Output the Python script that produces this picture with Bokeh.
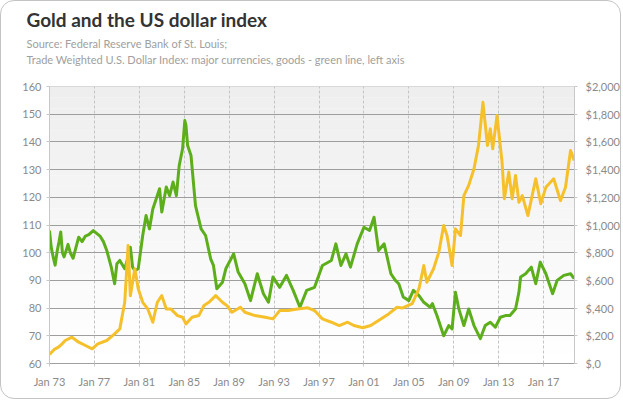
from bokeh.plotting import figure
from bokeh.models import Range1d, LinearAxis, FixedTicker, Title, BoxAnnotation
from bokeh.embed import file_html
from bokeh.resources import INLINE

title_text = "Gold and the US dollar index"
subtitle_1 = "Source: Federal Reserve Bank of St. Louis;"
subtitle_2 = "Trade Weighted U.S. Dollar Index: major currencies, goods - green line, left axis"

# Trade weighted US dollar index (left axis)
usd_dates = [1973.0, 1973.15, 1973.35, 1973.5, 1973.7, 1973.85, 1974.0, 1974.15, 1974.3, 1974.5,
             1974.65, 1974.85, 1975.1, 1975.3, 1975.6, 1975.9, 1976.2, 1976.5, 1976.9, 1977.2,
             1977.5, 1977.8, 1978.1, 1978.5, 1978.8, 1979.0, 1979.26, 1979.7, 1980.0, 1980.2,
             1980.4, 1980.6, 1980.9, 1981.3, 1981.6, 1981.9, 1982.2, 1982.5, 1982.8, 1983.0,
             1983.4, 1983.7, 1984.0, 1984.3, 1984.55, 1984.85, 1985.05, 1985.15, 1985.3, 1985.6,
             1986.0, 1986.5, 1986.9, 1987.35, 1987.6, 1987.9, 1988.4, 1988.7, 1989.4, 1989.8,
             1990.4, 1990.9, 1991.5, 1992.05, 1992.5, 1992.9, 1993.5, 1994.1, 1994.7, 1995.3,
             1995.9, 1996.6, 1997.3, 1998.1, 1998.5, 1998.95, 1999.4, 1999.8, 2000.4, 2001.0,
             2001.5, 2001.9, 2002.3, 2002.8, 2003.4, 2003.8, 2004.1, 2004.5, 2005.0, 2005.4,
             2005.9, 2006.33, 2006.9, 2007.1, 2007.5, 2008.1, 2008.55, 2008.85, 2009.15, 2009.45,
             2009.9, 2010.33, 2010.8, 2011.37, 2011.8, 2012.25, 2012.7, 2013.15, 2013.6, 2014.0,
             2014.5, 2014.8, 2014.95, 2015.4, 2015.9, 2016.3, 2016.7, 2017.2, 2017.8, 2018.2,
             2018.8, 2019.4, 2019.72]
usd_values = [108.0, 102.0, 98.0, 95.5, 101.0, 104.0, 107.5, 100.0, 98.5, 101.0,
              103.0, 100.0, 98.0, 101.0, 105.6, 104.0, 106.0, 106.5, 108.0, 107.0,
              106.0, 104.0, 100.8, 94.8, 88.8, 96.0, 97.2, 94.2, 98.4, 102.0,
              94.8, 93.5, 94.2, 106.2, 113.4, 108.6, 115.8, 119.4, 123.1, 114.7,
              123.7, 120.6, 125.5, 120.6, 131.5, 137.5, 147.7, 146.0, 138.7, 135.1,
              117.0, 108.6, 106.2, 97.8, 95.4, 87.0, 89.3, 94.2, 99.6, 93.0,
              88.8, 82.7, 92.4, 85.2, 82.1, 91.2, 87.5, 91.8, 86.4, 80.3,
              86.4, 87.5, 95.4, 97.2, 103.2, 95.4, 99.6, 94.8, 103.2, 109.2,
              108.0, 112.8, 100.8, 103.2, 92.4, 90.0, 88.8, 84.0, 82.7, 86.4,
              84.5, 82.1, 80.3, 81.6, 77.3, 70.0, 73.7, 72.5, 85.7, 79.7,
              73.7, 79.7, 73.7, 69.0, 73.7, 74.9, 73.1, 76.7, 77.3, 77.3,
              79.7, 85.7, 91.2, 92.4, 94.8, 88.8, 96.6, 92.4, 85.2, 90.0,
              91.8, 92.4, 90.6]

# Gold price, US$ (right axis)
gold_dates = [1973.0, 1973.4, 1973.8, 1974.1, 1974.4, 1975.0, 1975.6, 1976.2, 1976.8, 1977.3,
              1978.1, 1978.8, 1979.26, 1979.7, 1980.0, 1980.2, 1980.6, 1980.9, 1981.3, 1981.75,
              1982.2, 1982.6, 1983.0, 1983.4, 1983.8, 1984.4, 1984.85, 1985.15, 1985.7, 1986.3,
              1986.75, 1987.2, 1987.8, 1988.4, 1988.8, 1989.25, 1990.0, 1990.4, 1991.3, 1992.2,
              1992.9, 1993.5, 1994.25, 1995.1, 1996.0, 1996.6, 1997.3, 1998.1, 1998.8, 1999.55,
              2000.1, 2000.9, 2001.6, 2002.3, 2003.2, 2003.95, 2004.4, 2005.3, 2005.9, 2006.33,
              2006.6, 2007.2, 2007.67, 2008.1, 2008.4, 2008.85, 2009.15, 2009.6, 2009.9, 2010.33,
              2010.8, 2011.2, 2011.6, 2012.0, 2012.25, 2012.47, 2012.85, 2013.3, 2013.5, 2013.9,
              2014.2, 2014.5, 2014.8, 2015.1, 2015.6, 2016.3, 2016.75, 2017.2, 2017.9, 2018.5,
              2018.95, 2019.4, 2019.72]
gold_prices = [65, 100, 118, 140, 166, 190, 154, 130, 106, 142,
               166, 214, 250, 442, 852, 490, 684, 540, 442, 394,
               298, 442, 490, 394, 394, 346, 334, 286, 334, 346,
               418, 442, 490, 442, 418, 370, 406, 370, 346, 334,
               322, 382, 382, 394, 402, 382, 322, 298, 274, 298,
               274, 258, 274, 310, 358, 406, 400, 432, 540, 708,
               586, 684, 804, 996, 924, 708, 972, 924, 1212, 1286,
               1406, 1574, 1886, 1574, 1694, 1550, 1790, 1454, 1190, 1382,
               1190, 1358, 1164, 1212, 1068, 1334, 1154, 1272, 1334, 1176,
               1272, 1538, 1466]

x_ticks = [1973, 1977, 1981, 1985, 1989, 1993, 1997, 2001, 2005, 2009, 2013, 2017]
x_tick_labels = ["Jan 73", "Jan 77", "Jan 81", "Jan 85", "Jan 89", "Jan 93",
                 "Jan 97", "Jan 01", "Jan 05", "Jan 09", "Jan 13", "Jan 17"]
left_ticks = [60, 70, 80, 90, 100, 110, 120, 130, 140, 150, 160]
right_ticks = [0, 200, 400, 600, 800, 1000, 1200, 1400, 1600, 1800, 2000]
right_tick_labels = ["$,0", "$,200", "$,400", "$,600", "$,800", "$1,000",
                     "$1,200", "$1,400", "$1,600", "$1,800", "$2,000"]

FONT = "Lato"
LABEL_COLOR = "#8a8a8a"
SUB_COLOR = "#a0a0a0"

p = figure(width=621, height=399, output_backend="svg", toolbar_location=None,
           x_range=Range1d(1973, 2019.75), y_range=Range1d(60, 160),
           min_border_left=48, min_border_right=43, min_border_top=85, min_border_bottom=37)
p.styles = {"border": "1px solid #c4c4c4", "border-radius": "14px"}
p.extra_y_ranges = {"gold": Range1d(0, 2000)}
p.outline_line_color = "#d0d0d0"
p.background_fill_color = "#ffffff"
p.border_fill_color = None

# titles: p.title is outermost; titles added later sit closer to the plot in add order
p.title.text = title_text
p.title.align = "left"
p.title.offset = -23
p.title.standoff = 6
p.title.text_font = FONT
p.title.text_font_style = "bold"
p.title.text_font_size = "19px"
p.title.text_color = "#333333"
# blank spacer panel between the subtitle and the plot frame
p.add_layout(Title(text=" ", text_font_size="1px", standoff=16), "above")
p.add_layout(Title(text=subtitle_1 + "\n" + subtitle_2, align="left", offset=-23, standoff=3,
                   text_font=FONT, text_font_style="normal", text_font_size="11px",
                   text_line_height=1.25, text_color=SUB_COLOR), "above")

# vertical gradient background (light grey at top to white at bottom)
n_bands = 25
y0, y1 = 60, 160
for i in range(n_bands):
    b = y0 + (y1 - y0) * i / n_bands
    t = y0 + (y1 - y0) * (i + 1) / n_bands
    frac = (i + 0.5) / n_bands
    g = int(round(255 - 17 * frac))
    p.add_layout(BoxAnnotation(bottom=b, top=t, fill_color=(g, g, g), fill_alpha=1.0,
                               line_color=None, level="image"))

# grids
p.xgrid.ticker = FixedTicker(ticks=x_ticks)
p.xgrid.grid_line_color = "#c4c4c4"
p.xgrid.grid_line_dash = "3 2"
p.xgrid.grid_line_width = 1
p.ygrid.ticker = FixedTicker(ticks=left_ticks[1:-1])
p.ygrid.grid_line_color = "#9e9e9e"
p.ygrid.grid_line_width = 1

# axes
xa = p.xaxis[0]
xa.ticker = FixedTicker(ticks=x_ticks)
xa.major_label_overrides = {t: l for t, l in zip(x_ticks, x_tick_labels)}
ya = p.yaxis[0]
ya.ticker = FixedTicker(ticks=left_ticks)
ra = LinearAxis(y_range_name="gold", ticker=FixedTicker(ticks=right_ticks),
                major_label_overrides={t: l for t, l in zip(right_ticks, right_tick_labels)})
p.add_layout(ra, "right")

for ax in (xa, ya, ra):
    ax.axis_line_color = "#c8c8c8"
    ax.major_tick_line_color = "#c8c8c8"
    ax.major_tick_out = 3
    ax.major_tick_in = 0
    ax.minor_tick_line_color = None
    ax.major_label_text_color = LABEL_COLOR
    ax.major_label_text_font = FONT
    ax.major_label_text_font_size = "11px"
xa.axis_line_color = "#a0a0a0"
xa.major_label_standoff = 8
ya.major_label_standoff = 5
ra.major_label_standoff = 8

# series
p.line(usd_dates, usd_values, line_color="#5dae1b", line_width=3, line_join="round")
p.line(gold_dates, gold_prices, y_range_name="gold", line_color="#f6c02b", line_width=3,
       line_join="round")

open("out.html", "w").write(file_html(p, INLINE))
